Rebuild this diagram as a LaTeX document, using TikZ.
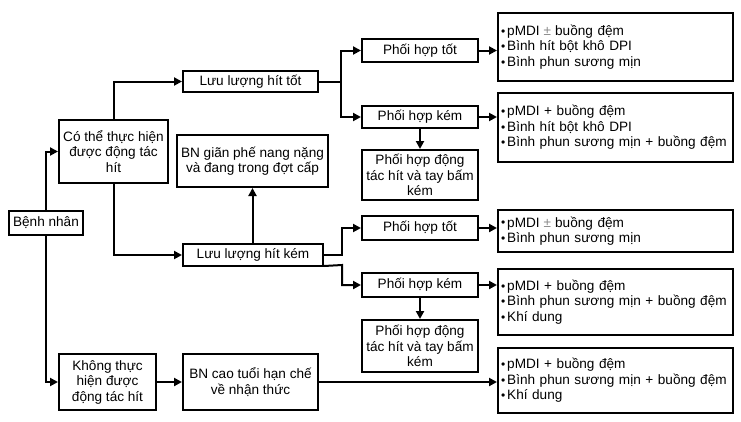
\documentclass[tikz,border=0pt]{standalone}
\usepackage{fontspec}
\setmainfont{Liberation Sans}
\usetikzlibrary{arrows.meta}
\newcommand{\bul}{\raisebox{0.3pt}{\fontsize{12}{12}\selectfont •}\hspace{2pt}}
\newcommand{\plmi}{\hspace{4pt}\textcolor{black!45}{±}\hspace{4pt}}
\begin{document}
\begin{tikzpicture}[x=1pt,y=-1pt,
  box/.style={draw=black,line width=2pt,inner sep=0pt,align=center,
    font=\fontsize{13.6}{15.5}\selectfont,fill=white},
  list/.style={box,align=left,inner xsep=3pt,text width=#1},
  conn/.style={line width=2pt,draw=black},
  arr/.style={conn,-{Triangle[length=8pt,width=8pt]}}]
\useasboundingbox[fill=white] (0,0) rectangle (741,421);
% left column
\node[box,minimum width=74pt,minimum height=24pt] (benh) at (46,223) {Bệnh nhân};
\node[box,minimum width=109pt,minimum height=63pt] (cothe) at (113.5,151.5) {Có thể thực hiện\\được động tác\\hít};
\node[box,minimum width=97pt,minimum height=56pt] (khong) at (107.5,382) {Không thực\\hiện được\\động tác hít};
% middle column
\node[box,minimum width=135pt,minimum height=21pt] (lltot) at (250.5,81.5) {Lưu lượng hít tốt};
\node[box,minimum width=140pt,minimum height=22pt] (llkem) at (253,255) {Lưu lượng hít kém};
\node[box,minimum width=151pt,minimum height=52pt] (bngian) at (252.5,161) {BN giãn phế nang nặng\\và đang trong đợt cấp};
\node[box,minimum width=135pt,minimum height=56pt] (bncao) at (250.5,382) {BN cao tuổi hạn chế\\về nhận thức};
% coordination column
\node[box,minimum width=116pt,minimum height=23pt] (pht1) at (420,50.5) {Phối hợp tốt};
\node[box,minimum width=116pt,minimum height=22pt] (phk1) at (420,117) {Phối hợp kém};
\node[box,minimum width=116pt,minimum height=50pt] (phd1) at (420,175) {Phối hợp động\\tác hít và tay bấm\\kém};
\node[box,minimum width=116pt,minimum height=24pt] (pht2) at (420,228) {Phối hợp tốt};
\node[box,minimum width=116pt,minimum height=24pt] (phk2) at (420,285) {Phối hợp kém};
\node[box,minimum width=116pt,minimum height=52pt] (phd2) at (420,346) {Phối hợp động\\tác hít và tay bấm\\kém};
% right column
\node[list=229pt,minimum height=68pt] (r1) at (615.5,47) {\bul pMDI\plmi buồng đệm\\\bul Bình hít bột khô DPI\\\bul Bình phun sương mịn};
\node[list=229pt,minimum height=69pt] (r2) at (615.5,127.5) {\bul pMDI + buồng đệm\\\bul Bình hít bột khô DPI\\\bul Bình phun sương mịn + buồng đệm};
\node[list=229pt,minimum height=42pt] (r3) at (615.5,231) {\bul pMDI\plmi buồng đệm\\\bul Bình phun sương mịn\\[6pt]};
\node[list=229pt,minimum height=66pt] (r4) at (615.5,302) {\bul pMDI + buồng đệm\\\bul Bình phun sương mịn + buồng đệm\\\bul Khí dung};
\node[list=229pt,minimum height=65pt] (r5) at (615.5,380.5) {\bul pMDI + buồng đệm\\\bul Bình phun sương mịn + buồng đệm\\\bul Khí dung};
% connectors
\draw[arr] (benh.north) |- (cothe.west);
\draw[arr] (benh.south) |- (khong.west);
\draw[arr] (cothe.north) |- (lltot.west);
\draw[arr] (cothe.south) |- (llkem.west);
\draw[arr] (llkem.north -| bngian.south) -- (bngian.south);
\draw[arr] (khong.east) -- (bncao.west);
\draw[arr] (bncao.east) -- (bncao.east -| r5.west);
\coordinate (j1) at (341,81.5);
\draw[conn] (lltot.east) -- (j1);
\draw[arr] (j1) |- (pht1.west);
\draw[arr] (j1) |- (phk1.west);
\coordinate (j2) at (342,255);
\coordinate (j3) at (342,265);
\draw[arr] (llkem.east) -- (j2) |- (pht2.west);
\draw[arr] (llkem.south east) ++(0,-1) -- (j3) |- (phk2.west);
\draw[arr] (pht1.east) -- (pht1.east -| r1.west);
\draw[arr] (phk1.east) -- (phk1.east -| r2.west);
\draw[arr] (pht2.east) -- (pht2.east -| r3.west);
\draw[arr] (phk2.east) -- (phk2.east -| r4.west);
\draw[arr] (phk1.south) -- (phd1.north);
\draw[arr] (phk2.south) -- (phd2.north);
\end{tikzpicture}
\end{document}
